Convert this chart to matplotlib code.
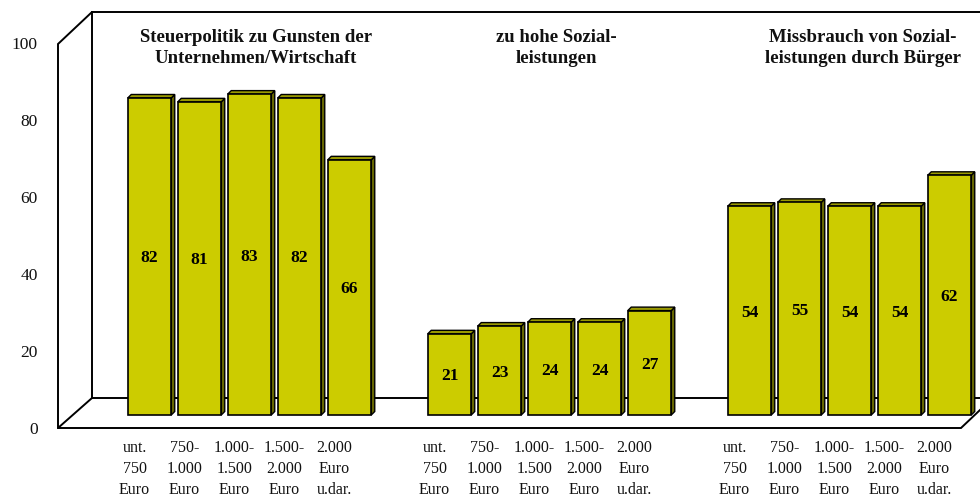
import matplotlib
matplotlib.use("Agg")
import matplotlib.pyplot as plt
from matplotlib.patches import Polygon

plt.rcParams['font.family'] = ['Liberation Serif', 'DejaVu Serif']

group_titles = ["Steuerpolitik zu Gunsten der\nUnternehmen/Wirtschaft",
                "zu hohe Sozial-\nleistungen",
                "Missbrauch von Sozial-\nleistungen durch Bürger"]
income_labels = ["unt.\n750\nEuro", "750-\n1.000\nEuro", "1.000-\n1.500\nEuro",
                 "1.500-\n2.000\nEuro", "2.000\nEuro\nu.dar."]
steuerpolitik = [82, 81, 83, 82, 66]
sozialleistungen = [21, 23, 24, 24, 27]
missbrauch = [54, 55, 54, 54, 62]
y_ticks = [0, 20, 40, 60, 80, 100]

W, H = 980, 497
PX_X, PX_Y = 50.0, 3.866      # pixels per category slot / per percent
X0_PX, Y0_PX = 149.5, 415.0   # pixel position of slot 0 / value 0

fig = plt.figure(figsize=(W / 100, H / 100), dpi=100, facecolor="white")
ax = fig.add_axes([0, 0, 1, 1])
ax.set_xlim(-X0_PX / PX_X, (W - X0_PX) / PX_X)
ax.set_ylim(-(H - Y0_PX) / PX_Y, Y0_PX / PX_Y)
ax.axis("off")

def px(x, y):
    return ((x - X0_PX) / PX_X, (Y0_PX - y) / PX_Y)

# 3-D box frame
frame = [[(58, 428), (58, 44), (92, 12), (980, 12)],
         [(92, 12), (92, 398), (980, 398)],
         [(92, 398), (58, 428), (961, 428), (980, 410)]]
for path in frame:
    xs, ys = zip(*[px(*p) for p in path])
    ax.plot(xs, ys, color="black", lw=1.4, solid_joinstyle="miter", zorder=1, clip_on=True)

FACE, SIDE, TOP = "#CCCC00", "#666600", "#999900"
WIDTH = 43.5 / PX_X
DX, DY = 3.5 / PX_X, 3.5 / PX_Y

groups = [steuerpolitik, sozialleistungen, missbrauch]
for g, values in enumerate(groups):
    start = g * 6
    for i, v in enumerate(values):
        c = start + i
        l, r = c - WIDTH / 2, c + WIDTH / 2
        ax.add_patch(Polygon([(r, 0), (r + DX, DY), (r + DX, v + DY), (r, v)],
                             fc=SIDE, ec="black", lw=1.0, zorder=3))
        ax.add_patch(Polygon([(l, v), (l + DX, v + DY), (r + DX, v + DY), (r, v)],
                             fc=TOP, ec="black", lw=1.0, zorder=3))
        ax.bar(c, v, width=WIDTH, color=FACE, edgecolor="black", linewidth=1.2, zorder=4)
        ax.text(c, v / 2 - 2 / PX_Y, str(v), ha="center", va="center", fontsize=12.5,
                fontweight="bold", color="black", zorder=5)
        tx = c - 15 / PX_X
        ax.text(tx, px(0, 469)[1], income_labels[i], ha="center", va="center",
                fontsize=11.5, linespacing=1.4, color="#111111", zorder=5)

title_px = [256, 556, 863]
for t, xp in zip(group_titles, title_px):
    ax.text(px(xp, 0)[0], px(0, 48)[1], t, ha="center", va="center", fontsize=13.5,
            fontweight="bold", linespacing=1.27, color="#111111", zorder=5)

for v in y_ticks:
    ax.text(px(37.5, 0)[0], px(0, 430 - 3.85 * v)[1], str(v), ha="right", va="center",
            fontsize=12.5, color="#111111", zorder=5)

fig.savefig("out.png", dpi=100, facecolor="white")
